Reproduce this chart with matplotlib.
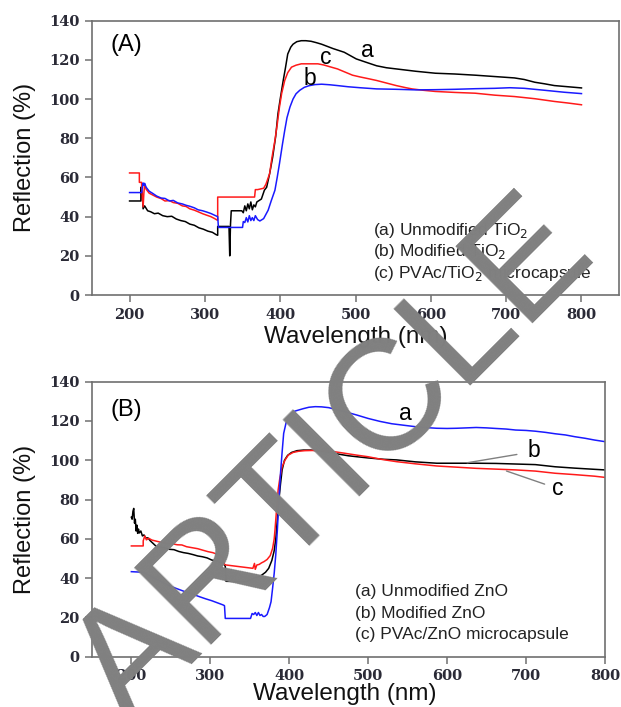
import matplotlib
matplotlib.use("Agg")
import matplotlib.pyplot as plt

# ---- (A) TiO2 reflection spectra ----
tio2_a_wl = [200, 215, 215, 217, 218, 220, 224, 228, 233, 238, 244, 250, 256, 262, 268, 274, 280, 286,
             292, 298, 304, 310, 315, 317, 317, 331, 332, 333, 334, 335, 349, 351, 353, 355, 357, 359,
             361, 363, 365, 367, 369, 371, 375, 379, 382, 386, 390, 394, 397, 400, 404, 407, 410, 414,
             417, 422, 428, 434, 441, 448, 455, 470, 485, 501, 514, 528, 541, 554, 567, 580, 606, 632,
             659, 685, 711, 724, 738, 751, 764, 782, 800]
tio2_a_val = [48, 48, 55, 51, 44, 45.5, 43, 42.5, 41.5, 41.8, 40.5, 40, 40.2, 38.8, 38, 37.5, 36.2, 35.6,
              34.3, 33.6, 32.6, 32, 30.8, 30.5, 35, 35, 35, 20, 36, 43, 43, 42, 45.5, 43, 46.5, 44,
              47.5, 43.5, 46, 45, 47.5, 48, 49, 53.5, 55, 62, 70.4, 81, 92.5, 100, 109.5, 116, 123, 126.5,
              128, 129.3, 129.8, 129.8, 129.5, 128.8, 128, 125.8, 123.9, 120.5, 118.8, 117, 116, 115.4,
              114.8, 114.2, 113.2, 112.8, 112.2, 111.5, 110.8, 110, 108.6, 107.8, 106.9, 106.3, 105.7]

tio2_b_wl = [200, 216, 217, 218, 219, 220, 222, 226, 231, 236, 242, 247, 253, 258, 264, 270, 275, 280,
             286, 291, 297, 302, 308, 313, 317, 318, 350, 351, 353, 355, 357, 359, 361, 363, 365, 367,
             370, 373, 378, 384, 388, 393, 396, 399, 403, 406, 409, 413, 417, 421, 426, 432, 438, 446,
             455, 466, 476, 490, 506, 528, 554, 580, 606, 632, 659, 685, 705, 724, 751, 777, 800]
tio2_b_val = [52.3, 52.3, 55, 57.2, 56, 57, 55, 53, 51.8, 50.5, 49.5, 49.3, 48, 48.3, 47, 46.5, 45.8, 45.3,
              44.5, 43.5, 43, 42.4, 41.6, 40.7, 40, 34.5, 34.5, 37.5, 37, 39.5, 37.3, 40.5, 38, 39.5, 38, 40.5,
              38.5, 37.8, 39, 43.3, 48, 53.5, 60, 67, 77, 84, 90.5, 96, 100, 102.7, 104.5, 106, 106.8, 107.4,
              107.6, 107.3, 106.9, 106.3, 105.8, 105.2, 105, 104.7, 104.8, 105, 105.3, 105.5, 105.8, 105.5,
              104.5, 103.5, 102.8]

tio2_c_wl = [200, 213, 213, 216, 216, 218, 219, 220, 222, 226, 231, 236, 242, 247, 253, 258, 264, 270,
             275, 280, 286, 291, 297, 302, 308, 313, 316, 317, 317, 366, 367, 370, 378, 381, 386, 389,
             393, 396, 399, 402, 406, 410, 415, 421, 428, 435, 443, 450, 458, 466, 476, 486, 496, 506,
             516, 528, 541, 554, 567, 575, 590, 606, 632, 659, 685, 711, 738, 764, 782, 800]
tio2_c_val = [62.3, 62.3, 57.5, 57.5, 54.5, 45, 52, 56.5, 54, 52, 51, 50, 49.2, 48, 48.2, 47.2, 46.8, 45.5,
              45.2, 44, 43.3, 42.5, 41.5, 40.8, 40, 39, 38.3, 38.2, 50, 50, 53.8, 53.8, 54.5, 56.5, 62, 70,
              79, 87, 95.9, 103, 109.5, 113.5, 116.3, 117.3, 118, 118, 118, 118, 117.4, 116.5, 115.4, 113.8,
              112.2, 111.3, 110.5, 109.5, 108.2, 106.9, 105.8, 105.2, 104.5, 103.9, 103.4, 103, 102, 101.3,
              100.2, 98.8, 98, 97.1]

tio2_labels = ["(a) Unmodified TiO$_2$", "(b) Modified TiO$_2$", "(c) PVAc/TiO$_2$ microcapsule"]

# ---- (B) ZnO reflection spectra ----
zno_a_wl = [200, 215, 222, 230, 238, 246, 254, 262, 270, 278, 286, 294, 302, 310, 316, 318, 319, 351,
            353, 355, 357, 359, 361, 363, 365, 367, 369, 372, 375, 377, 379, 381, 383, 385, 387, 389,
            391, 393, 396, 399, 403, 407, 412, 418, 425, 433, 441, 450, 458, 470, 486, 500, 515, 530,
            546, 560, 575, 587, 600, 612, 625, 637, 650, 662, 675, 687, 700, 712, 725, 737, 750, 762,
            775, 787, 800]
zno_a_val = [43.3, 43, 41.5, 39.8, 38.2, 36.5, 35.2, 34, 32.8, 31.8, 30.6, 29.5, 28.5, 27.3, 26.4, 26, 19.5, 19.5,
             22, 21.5, 22.5, 21, 22.5, 21, 21.5, 20.5, 20.5, 21.5, 25, 28, 35, 42.5, 52, 64.5, 80, 93.4,
             104, 113.7, 119, 122.2, 124, 125, 125.6, 126.3, 127, 127.3, 127.2, 126.8, 126, 124.8, 123, 121.3,
             119.8, 118.6, 117.8, 117.1, 116.6, 116.3, 116.2, 116.3, 116.5, 116.7, 116.5, 116.2, 115.9, 115.4,
             115.2, 114.8, 114.2, 113.5, 112.9, 112, 111.2, 110.3, 109.5]

zno_b_wl = [200, 201, 202, 203, 204, 205, 206, 207, 208, 209, 210, 212, 214, 216, 218, 221, 224, 228,
            232, 237, 242, 248, 254, 260, 266, 272, 278, 284, 290, 296, 302, 308, 313, 317, 319, 320,
            345, 350, 355, 360, 365, 370, 374, 378, 381, 383, 385, 387, 389, 391, 394, 398, 403, 410,
            418, 427, 436, 447, 460, 475, 486, 500, 520, 536, 560, 587, 612, 637, 662, 687, 712, 737,
            762, 787, 800]
zno_b_val = [71, 70, 74, 75.5, 68, 70, 64, 67, 62.8, 65, 63, 64, 61.5, 62, 60.5, 60.5, 59, 57.5,
             56, 55.8, 55.5, 54.7, 54.5, 53.6, 53, 52.6, 52, 51.3, 50.9, 50.3, 49.2, 48.8, 47.9, 47.5, 46, 38.4,
             38.2, 39, 40, 40.5, 41.5, 43, 45, 49, 54, 60, 70, 80, 88, 95, 100, 102.5, 104, 104.9,
             105.2, 105.2, 104.9, 104.3, 103.3, 102.3, 101.8, 101.2, 100.5, 100.2, 99.2, 98.5, 98.5, 98.5,
             98.4, 98.1, 97.8, 96.7, 96, 95.4, 95.1]

zno_c_wl = [200, 215, 215, 217, 219, 222, 226, 232, 238, 245, 252, 258, 264, 270, 277, 284, 290, 297,
            303, 308, 313, 316, 318, 320, 354, 356, 357, 359, 362, 365, 368, 372, 376, 379, 381, 382,
            384, 386, 388, 391, 395, 399, 405, 412, 420, 430, 440, 455, 470, 486, 500, 518, 536, 560,
            587, 612, 637, 662, 687, 712, 737, 762, 787, 800]
zno_c_val = [56.4, 56.4, 59, 61.5, 59.5, 60.3, 59.4, 58.8, 58.2, 57.7, 57.5, 57, 56.9, 56, 55.5, 55, 54.3, 53.5,
             53, 52.3, 51.5, 50.1, 47, 46.7, 45, 47.5, 44.5, 46.7, 47, 47.8, 48.4, 49.5, 51.5, 55.2, 60, 64.5,
             75, 85, 90.5, 96.7, 100.3, 102.7, 104, 104.6, 104.9, 105, 104.9, 104.5, 103.6, 102.6, 101.8, 100.4,
             99.3, 98.2, 97.1, 96.5, 95.9, 95.5, 95.1, 94.5, 93.4, 92.7, 91.9, 91.3]

zno_labels = ["(a) Unmodified ZnO", "(b) Modified ZnO", "(c) PVAc/ZnO microcapsule"]

x_ticks = [200, 300, 400, 500, 600, 700, 800]
y_ticks = [0, 20, 40, 60, 80, 100, 120, 140]

SANS = "Liberation Sans"
FRAME = "#707070"


def style_axes(ax, xlim):
    ax.set_xlim(*xlim)
    ax.set_ylim(0, 140)
    ax.set_xticks(x_ticks)
    ax.set_yticks(y_ticks)
    for s in ax.spines.values():
        s.set_color(FRAME)
        s.set_linewidth(1.2)
    ax.tick_params(direction="out", length=5, width=1.1, color=FRAME, pad=4,
                   labelsize=10.5, labelcolor="#2a2a36")
    for lab in ax.get_xticklabels() + ax.get_yticklabels():
        lab.set_family("DejaVu Serif")
        lab.set_fontweight("bold")
    ax.set_xlabel("Wavelength (nm)", family=SANS, fontsize=17.5, color="#111")
    ax.set_ylabel("Reflection (%)", family=SANS, fontsize=17, color="#111")


def legend_lines(ax, labels, x):
    for y, text in zip([0.237, 0.157, 0.08], labels):
        ax.text(x, y, text, transform=ax.transAxes, family=SANS, fontsize=12.5,
                color="#222", va="center", ha="left")


fig = plt.figure(figsize=(6.21, 7.07), dpi=100)

# top panel
ax1 = fig.add_axes([0.148, 0.5827, 0.849, 0.388])
ax1.plot(tio2_a_wl, tio2_a_val, color="black", lw=1.1)
ax1.plot(tio2_c_wl, tio2_c_val, color="#ff1a1a", lw=1.1)
ax1.plot(tio2_b_wl, tio2_b_val, color="#1a1aff", lw=1.1)
style_axes(ax1, (150, 850))
ax1.yaxis.set_label_coords(-0.106, 0.5)
ax1.xaxis.set_label_coords(0.5, -0.113)
ax1.text(196, 127.5, "(A)", family=SANS, fontsize=17, ha="center", va="center")
ax1.text(516, 125, "a", family=SANS, fontsize=16.5, ha="center", va="center")
ax1.text(460, 121, "c", family=SANS, fontsize=16.5, ha="center", va="center")
ax1.text(439, 110.6, "b", family=SANS, fontsize=16.5, ha="center", va="center")
legend_lines(ax1, tio2_labels, 0.533)

# bottom panel
ax2 = fig.add_axes([0.148, 0.0711, 0.826, 0.389])
ax2.plot(zno_b_wl, zno_b_val, color="black", lw=1.1)
ax2.plot(zno_c_wl, zno_c_val, color="#ff1a1a", lw=1.1)
ax2.plot(zno_a_wl, zno_a_val, color="#1a1aff", lw=1.1)
style_axes(ax2, (150, 800))
ax2.yaxis.set_label_coords(-0.109, 0.5)
ax2.xaxis.set_label_coords(0.493, -0.096)
ax2.text(194, 125.6, "(B)", family=SANS, fontsize=17, ha="center", va="center")
ax2.text(547, 123.6, "a", family=SANS, fontsize=16.5, ha="center", va="center")
ax2.text(710, 104.9, "b", family=SANS, fontsize=16.5, ha="center", va="center")
ax2.text(740, 85.4, "c", family=SANS, fontsize=16.5, ha="center", va="center")
ax2.annotate("", xy=(622, 98.5), xytext=(692, 103.2),
             arrowprops=dict(arrowstyle="-", color="#808080", lw=1))
ax2.annotate("", xy=(672, 95), xytext=(727, 87.4),
             arrowprops=dict(arrowstyle="-", color="#808080", lw=1))
legend_lines(ax2, zno_labels, 0.513)

# stamp across both panels
fig.text(335 / 621, 1 - 464 / 707, "ARTICLE", rotation=45, fontsize=114, family=SANS,
         color="#808080", ha="center", va="center", zorder=20)

fig.savefig("out.png", dpi=100)
